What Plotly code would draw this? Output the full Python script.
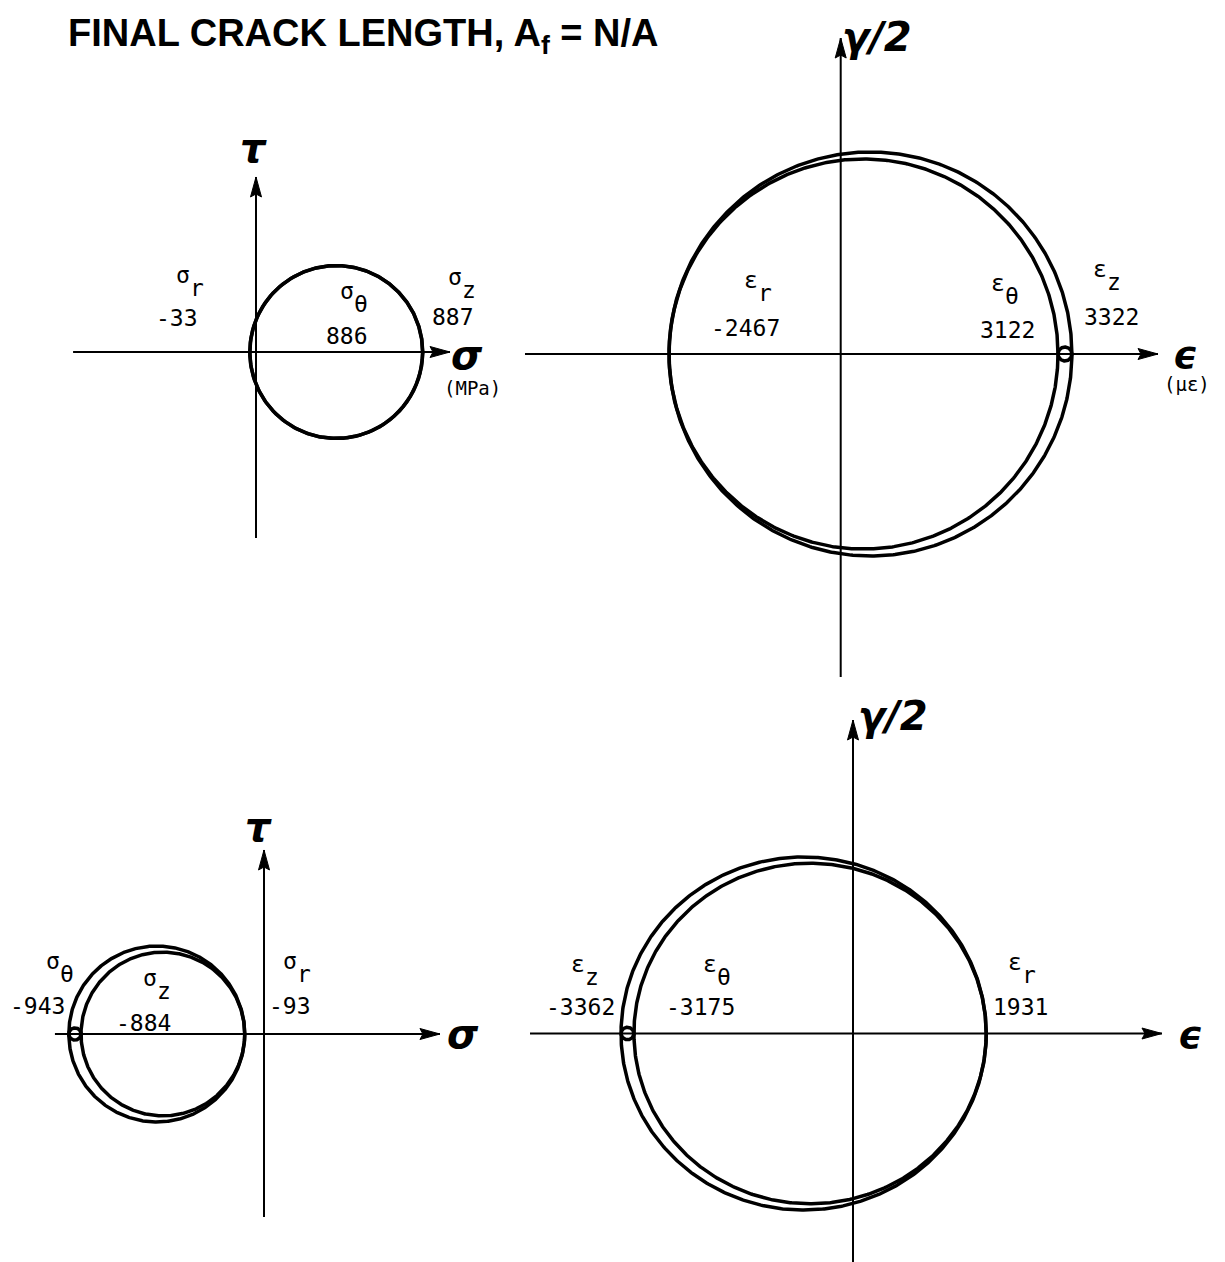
import numpy as np
import plotly.graph_objects as go

W, H = 1225, 1262

# Principal values for each Mohr diagram
top_stress_keys = ["r", "θ", "z"]
top_stress_mpa = [-33, 886, 887]
top_strain_keys = ["r", "θ", "z"]
top_strain_ue = [-2467, 3122, 3322]
bottom_stress_keys = ["θ", "z", "r"]
bottom_stress_mpa = [-943, -884, -93]
bottom_strain_keys = ["z", "θ", "r"]
bottom_strain_ue = [-3362, -3175, 1931]

title_text = "FINAL CRACK LENGTH, A<sub>f</sub> = N/A"

# Page layout of the four diagrams (pixel origin, px per unit, box, axis lengths in data units)
panels = [
    dict(keys=top_stress_keys, vals=top_stress_mpa, sym="σ",
         origin=(256, 352), scale=(0.188, 0.188), box=(40, 110, 520, 560),
         h_ext=(-973, 1032), v_ext=(-989, 931),
         sym_pos=[(183, 275), (347, 291), (455, 277)],
         num_pos=[(177, 318), (347, 336), (453, 317)],
         h_label=("σ", 467, 355, 40), v_label=("τ", 253, 148, 40),
         unit=("(MPa)", 472, 388)),
    dict(keys=top_strain_keys, vals=top_strain_ue, sym="ε",
         origin=(840.7, 354), scale=(0.0696, 0.0698), box=(520, 0, 1225, 690),
         h_ext=(-4536, 4559), v_ext=(-4628, 4527),
         sym_pos=[(751, 280), (998, 283), (1100, 269)],
         num_pos=[(745, 328), (1007, 330), (1111, 317)],
         h_label=("ϵ", 1185, 355, 38), v_label=("γ/2", 877, 37, 40),
         unit=("(με)", 1187, 384)),
    dict(keys=bottom_stress_keys, vals=bottom_stress_mpa, sym="σ",
         origin=(264, 1034), scale=(0.207, 0.207), box=(0, 790, 520, 1262),
         h_ext=(-1010, 850), v_ext=(-884, 889),
         sym_pos=[(53, 961), (150, 978), (290, 961)],
         num_pos=[(37, 1006), (143, 1023), (290, 1006)],
         h_label=("σ", 463, 1034, 40), v_label=("τ", 258, 827, 40),
         unit=None),
    dict(keys=bottom_strain_keys, vals=bottom_strain_ue, sym="ε",
         origin=(853, 1033.5), scale=(0.069, 0.0667), box=(520, 690, 1225, 1262),
         h_ext=(-4681, 4478), v_ext=(-3426, 4700),
         sym_pos=[(578, 964), (710, 964), (1015, 962)],
         num_pos=[(580, 1007), (700, 1007), (1020, 1007)],
         h_label=("ϵ", 1190, 1035, 38), v_label=("γ/2", 893, 716, 40),
         unit=None),
]

LABEL_FONT = dict(family="DejaVu Sans Mono", size=23, color="black")
AXIS_FONT = "DejaVu Sans"


def paper(px, py):
    return px / W, 1 - py / H


fig = go.Figure()
annotations = []
layout_axes = {}

for i, p in enumerate(panels):
    n = "" if i == 0 else str(i + 1)
    xref, yref = "x" + n, "y" + n
    ox, oy = p["origin"]
    sx, sy = p["scale"]
    x0, y0, x1, y1 = p["box"]
    layout_axes["xaxis" + n] = dict(
        domain=[x0 / W, x1 / W], range=[(x0 - ox) / sx, (x1 - ox) / sx],
        visible=False, fixedrange=True, anchor=yref)
    layout_axes["yaxis" + n] = dict(
        domain=[1 - y1 / H, 1 - y0 / H], range=[(oy - y1) / sy, (oy - y0) / sy],
        visible=False, fixedrange=True, anchor=xref)

    # coordinate axes
    h0, h1 = p["h_ext"]
    v0, v1 = p["v_ext"]
    fig.add_trace(go.Scatter(x=[h0, h1], y=[0, 0], mode="lines",
                             line=dict(color="black", width=2),
                             xaxis=xref, yaxis=yref, hoverinfo="skip"))
    fig.add_trace(go.Scatter(x=[0, 0], y=[v0, v1], mode="lines",
                             line=dict(color="black", width=2),
                             xaxis=xref, yaxis=yref, hoverinfo="skip"))
    # arrowheads (20 px long, 11 px wide)
    L, w = 20.0, 5.5
    fig.add_trace(go.Scatter(
        x=[h1, h1 - L / sx, h1 - 0.85 * L / sx, h1 - L / sx, h1],
        y=[0, w / sy, 0, -w / sy, 0], mode="lines", fill="toself",
        fillcolor="black", line=dict(color="black", width=1),
        xaxis=xref, yaxis=yref, hoverinfo="skip"))
    fig.add_trace(go.Scatter(
        x=[0, w / sx, 0, -w / sx, 0],
        y=[v1, v1 - L / sy, v1 - 0.85 * L / sy, v1 - L / sy, v1],
        mode="lines", fill="toself", fillcolor="black",
        line=dict(color="black", width=1),
        xaxis=xref, yaxis=yref, hoverinfo="skip"))

    # Mohr circles between each pair of principal values
    t = np.linspace(0, 2 * np.pi, 721)
    vals = p["vals"]
    for a in range(3):
        for b in range(a + 1, 3):
            c = (vals[a] + vals[b]) / 2
            r = abs(vals[b] - vals[a]) / 2
            fig.add_trace(go.Scatter(
                x=c + r * np.cos(t), y=r * np.sin(t), mode="lines",
                line=dict(color="black", width=3.5),
                xaxis=xref, yaxis=yref, hoverinfo="skip"))

    # principal value labels
    for key, val, (spx, spy), (npx, npy) in zip(p["keys"], vals, p["sym_pos"], p["num_pos"]):
        sx_p, sy_p = paper(spx, spy)
        annotations.append(dict(text=p["sym"], x=sx_p, y=sy_p, xref="paper", yref="paper",
                                showarrow=False, font=LABEL_FONT,
                                xanchor="center", yanchor="middle"))
        annotations.append(dict(text=key, x=sx_p, y=sy_p, xref="paper", yref="paper",
                                xshift=14, yshift=-13, showarrow=False, font=LABEL_FONT,
                                xanchor="center", yanchor="middle"))
        nx_p, ny_p = paper(npx, npy)
        annotations.append(dict(text=str(val), x=nx_p, y=ny_p, xref="paper", yref="paper",
                                showarrow=False, font=LABEL_FONT,
                                xanchor="center", yanchor="middle"))

    # axis names
    for txt, lx, ly, size in (p["h_label"], p["v_label"]):
        ax_p, ay_p = paper(lx, ly)
        annotations.append(dict(text="<b><i>%s</i></b>" % txt, x=ax_p, y=ay_p,
                                xref="paper", yref="paper", showarrow=False,
                                font=dict(family=AXIS_FONT, size=size, color="black"),
                                xanchor="center", yanchor="middle"))
    if p["unit"]:
        txt, ux, uy = p["unit"]
        ux_p, uy_p = paper(ux, uy)
        annotations.append(dict(text=txt, x=ux_p, y=uy_p, xref="paper", yref="paper",
                                showarrow=False,
                                font=dict(family="DejaVu Sans Mono", size=19, color="black"),
                                xanchor="center", yanchor="middle"))

# heading
tx, ty = paper(66, 36)
annotations.append(dict(text="<b>%s</b>" % title_text, x=tx, y=ty, xref="paper", yref="paper",
                        showarrow=False, xanchor="left", yanchor="middle",
                        font=dict(family="Liberation Sans", size=38, color="black")))

fig.update_layout(
    width=W, height=H, margin=dict(l=0, r=0, t=0, b=0),
    paper_bgcolor="white", plot_bgcolor="white", showlegend=False,
    annotations=annotations, **layout_axes)

fig.write_html("out.html")
